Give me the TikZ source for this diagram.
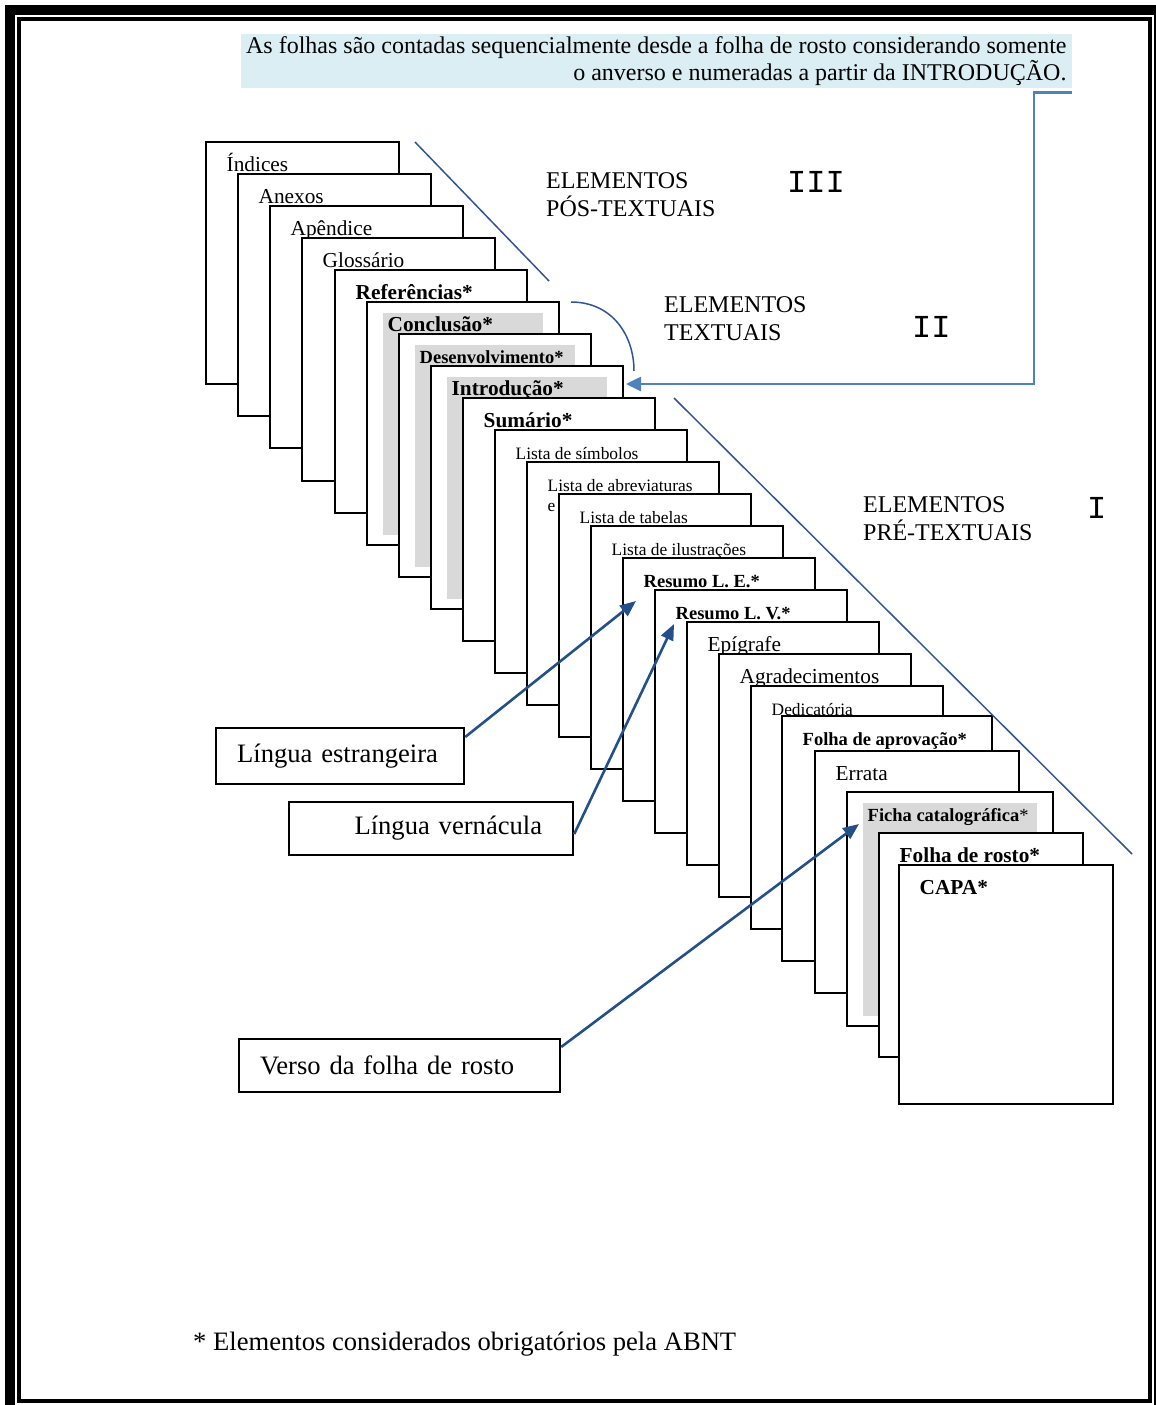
\documentclass[tikz,border=0pt]{standalone}
\usepackage{fontspec}
\setmainfont{Liberation Serif}
\newfontfamily\romanfont{Liberation Mono}
\usetikzlibrary{arrows.meta}
\definecolor{arrowblue}{HTML}{24508A}
\definecolor{sepblue}{HTML}{2F5597}
\definecolor{linkblue}{HTML}{4F81BD}
\definecolor{notefill}{HTML}{DAEEF3}
\definecolor{shadegray}{HTML}{D9D9D9}

\begin{document}
\begin{tikzpicture}[x=1pt,y=-1pt,
  pagebox/.style={draw,fill=white,line width=2.2pt,inner sep=0pt,outer sep=0pt,anchor=north west},
  pgbig/.style={anchor=base west,inner sep=0pt,font=\fontsize{21.3}{24}\selectfont},
  pgbigb/.style={pgbig,font=\fontsize{21.3}{24}\selectfont\bfseries},
  pgsmall/.style={anchor=base west,inner sep=0pt,font=\fontsize{17.4}{20}\selectfont},
  pgsmallb/.style={pgsmall,font=\fontsize{18.5}{21}\selectfont\bfseries},
  callout/.style={draw,line width=2.2pt,anchor=north west,inner ysep=0pt,minimum height=53pt,font=\fontsize{26.6}{30}\selectfont},
  heading/.style={anchor=base west,inner sep=0pt,align=left,font=\fontsize{24}{27.5}\selectfont},
  numeral/.style={anchor=base west,inner sep=0pt,font=\fontsize{32}{32}\romanfont},
  sepline/.style={sepblue,line width=1.5pt},
  pointer/.style={arrowblue,line width=2.6pt,-{Triangle[length=16pt,width=13pt]}},
  linkline/.style={linkblue,line width=2.6pt,-{Triangle[length=15pt,width=14pt]}}
]
  \useasboundingbox (0,0) rectangle (1156,1405);
  \draw[line width=10pt] (10,10) rectangle (1159,1410);
  \draw[line width=4pt] (19,19) rectangle (1150,1400.5);

  \node[fill=notefill,anchor=north east,minimum width=831pt,minimum height=54pt,inner sep=0pt,
        align=right,font=\fontsize{24}{27}\selectfont] (note) at (1072,34)
    {As folhas são contadas sequencialmente desde a folha de rosto considerando somente\\
     o anverso e numeradas a partir da INTRODUÇÃO.};

  % pages, back to front
  \foreach \l/\t/\r/\b/\s/\g/\txt [count=\i] in {
    206/142/399/384/pgbig/0/Índices,
    238/174/431/416/pgbig/0/Anexos,
    270/206/463/448/pgbig/0/Apêndice,
    302/238/495/481/pgbig/0/Glossário,
    335/270/527/513/pgbigb/0/Referências*,
    367/302/559/545/pgbigb/1/Conclusão*,
    399/334/591/577/pgsmallb/1/Desenvolvimento*,
    431/366/623/609/pgbigb/1/Introdução*,
    463/398/655/641/pgbigb/0/Sumário*,
    495/430/687/673/pgsmall/0/Lista de símbolos,
    527/462/719/705/pgsmall/0/{\begin{tabular}[t]{@{}l@{}}Lista de abreviaturas\\e\end{tabular}},
    559/494/751/737/pgsmall/0/Lista de tabelas,
    591/526/783/769/pgsmall/0/Lista de ilustrações,
    623/558/815/801/pgsmallb/0/Resumo L. E.*,
    655/590/847/833/pgsmallb/0/Resumo L. V.*,
    687/622/879/865/pgbig/0/Epígrafe,
    719/654/911/897/pgbig/0/Agradecimentos,
    751/686/943/929/pgsmall/0/Dedicatória,
    782/716/992/961/pgsmallb/0/Folha de aprovação*,
    815/751/1019/993/pgbig/0/Errata,
    847/792/1053/1026/pgsmallb/1/Ficha catalográfica\textmd{*},
    879/833/1083/1057/pgbigb/0/Folha de rosto*,
    899/865/1113/1104/pgbigb/0/CAPA*
  }{
    \pgfmathsetmacro\w{\r-\l}
    \pgfmathsetmacro\h{\b-\t}
    \node[pagebox,minimum width=\w pt,minimum height=\h pt] (pg\i) at (\l,\t) {};
    \ifnum\g=1 \fill[shadegray] (\l+16,\t+11) rectangle (\r-16,\b-10); \fi
    \node[\s] at (\l+20.5,\t+29) {\txt};
  }

  \draw[sepline] (415,142) -- (549,281);
  \draw[sepline] (571,302) .. controls (612,302) and (634,335) .. (634,371);
  \draw[sepline] (674,398) -- (1132,854);

  % base anchor sits on the second line
  \node[heading] (postext) at (546,216) {ELEMENTOS\\PÓS-TEXTUAIS};
  \node[heading] (textual) at (664,340) {ELEMENTOS\\TEXTUAIS};
  \node[heading] (pretext) at (863,540) {ELEMENTOS\\PRÉ-TEXTUAIS};
  \node[numeral] (n3) at (787,192) {III};
  \node[numeral] (n2) at (912,337) {II};
  \node[numeral] (n1) at (1087,518) {I};

  \node[callout,inner xsep=21pt,text width=206pt,minimum height=56pt] (lestr) at (215,727) {Língua estrangeira};
  \node[callout,inner xsep=31pt,text width=222pt,align=right] (lvern) at (288,801) {Língua vernácula};
  \node[callout,inner xsep=21pt,text width=279pt] (verso) at (238,1038) {Verso da folha de rosto};

  \draw[pointer] ([yshift=-10pt]lestr.north east) -- ([xshift=13pt,yshift=-43pt]pg14.north west);
  \draw[pointer] ([yshift=-5.5pt]lvern.east) -- ([xshift=19pt,yshift=-34pt]pg15.north west);
  \draw[pointer] ([yshift=-9pt]verso.north east) -- ([xshift=12pt,yshift=-32pt]pg21.north west);
  \draw[linkline] ([yshift=-4pt]note.south east) -- ++(-38,0) |- ([xshift=3pt,yshift=-18pt]pg8.north east);

  \node[anchor=base west,inner sep=0pt,font=\fontsize{26.6}{30}\selectfont] (foot) at (193,1350)
    {* Elementos considerados obrigatórios pela ABNT};
\end{tikzpicture}
\end{document}
